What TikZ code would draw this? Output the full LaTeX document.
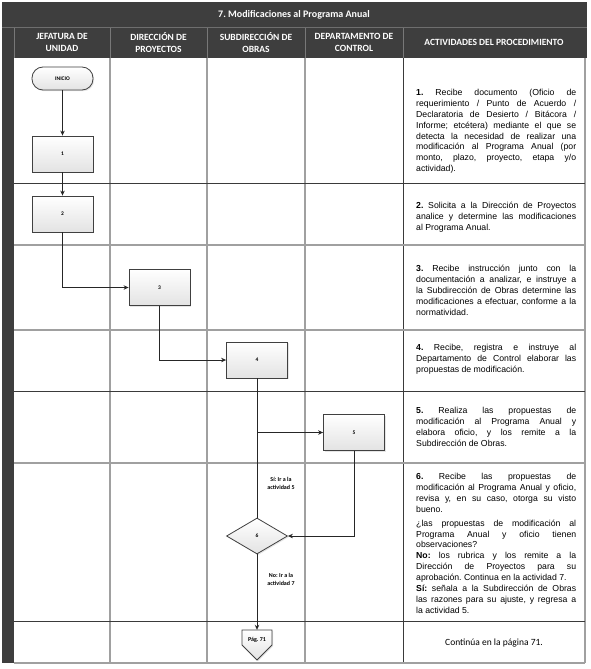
\documentclass[tikz,border=0pt]{standalone}
\usepackage{fontspec}
\setmainfont{Liberation Sans}
\newfontfamily\hdrf{Carlito}
\usetikzlibrary{arrows.meta,shapes.geometric,shadows,calc}
\definecolor{hdr}{HTML}{3E3E3E}
\definecolor{gridg}{HTML}{A0A0A0}
\definecolor{gridd}{HTML}{3A3A3A}
\definecolor{boxb}{HTML}{404040}
\frenchspacing
\begin{document}
\begin{tikzpicture}[x=1pt,y=-1pt,
  hdrtxt/.style={text=white,font=\hdrf\bfseries\fontsize{9.5}{12.5}\selectfont,align=center,inner sep=0},
  shadowed/.style={drop shadow={shadow xshift=1.2pt,shadow yshift=-1.2pt,opacity=.2,fill=gray}},
  procbox/.style={rectangle,draw=boxb,line width=0.8pt,minimum width=61pt,minimum height=36pt,inner sep=0,
     top color=white,bottom color=gray!22,shadowed,font=\hdrf\bfseries\fontsize{5.5}{6}\selectfont},
  termbox/.style={procbox,rounded corners=11pt,minimum height=23pt},
  decbox/.style={procbox,diamond,aspect=1.7,minimum width=61pt,minimum height=36pt},
  conn/.style={draw=black!85,line width=0.9pt},
  arr/.style={conn,-{Stealth[length=5pt,width=4.5pt]}},
  lbl/.style={font=\hdrf\bfseries\fontsize{6}{8}\selectfont,align=center,inner sep=0},
  acttxt/.style={anchor=base west,text width=160pt,align=justify,inner sep=0,
     font=\frenchspacing\fontsize{8.7}{10.9}\selectfont},
  vline/.style={draw=gridg,line width=1.1pt},
  hdark/.style={draw=gridd,line width=0.9pt},
  hlight/.style={draw=gridg,line width=1.1pt}
]
\useasboundingbox (0,0) rectangle (590,669);
\fill[white] (0,0) rectangle (590,669);
% dark header and left strip
\fill[hdr] (2,2) rectangle (587,58);
\fill[hdr] (2,58) rectangle (14,663);
\draw[hdr!75!white,line width=0.6pt] (2,27.5) -- (587,27.5);
\foreach \xx in {14,110,207,305,403}{\draw[hdr!70!white,line width=0.5pt] (\xx,28) -- (\xx,58);}
% grid
\foreach \xx in {110,207,305}{\draw[vline] (\xx,58) -- (\xx,663);}
\draw[hdark] (403,58) -- (403,663);
\draw[vline] (585,58) -- (585,663);
\draw[hdark] (14,183) -- (585,183);
\draw[hlight] (14,245) -- (585,245);
\draw[hlight] (14,330) -- (585,330);
\draw[hdark] (14,391) -- (585,391);
\draw[hlight] (14,463) -- (585,463);
\draw[hdark] (14,621) -- (585,621);
\draw[hlight] (14,663) -- (585,663);
% headers
\node[hdrtxt,font=\hdrf\bfseries\fontsize{10}{12}\selectfont] (title) at (294,15) {7. Modificaciones al Programa Anual};
\node[hdrtxt] (h1) at (62,42.5) {JEFATURA DE\\UNIDAD};
\node[hdrtxt] (h2) at (158.5,42.5) {DIRECCIÓN DE\\PROYECTOS};
\node[hdrtxt] (h3) at (256,42.5) {SUBDIRECCIÓN DE\\OBRAS};
\node[hdrtxt] (h4) at (354,42.5) {DEPARTAMENTO DE\\CONTROL};
\node[hdrtxt] (h5) at (494,42.5) {ACTIVIDADES DEL PROCEDIMIENTO};
% flow shapes
\node[termbox] (ini) at (62.5,78.5) {INICIO};
\node[procbox] (p1) at (62.5,154) {1};
\node[procbox] (p2) at (62.5,214) {2};
\node[procbox] (p3) at (159.5,287.5) {3};
\node[procbox] (p4) at (257,360) {4};
\node[procbox] (p5) at (354,432.5) {5};
\node[decbox] (d6) at (257,536) {6};
\shade[top color=white,bottom color=gray!22,draw=boxb,line width=0.8pt,shadowed]
  (242,630) -- (272,630) -- (272,645) -- (257,660) -- (242,645) -- cycle;
\node[font=\hdrf\bfseries\fontsize{6}{7}\selectfont,minimum width=30pt,minimum height=20pt,inner sep=0] (pg) at (257,640) {Pág. 71};
\coordinate (j) at (257,432.5);
% connectors
\draw[arr] (ini) -- (p1);
\draw[arr] (p1) -- (p2);
\draw[arr] (p2.south) |- (p3.west);
\draw[arr] (p3.south) |- (p4.west);
\draw[conn] (p4.south) -- (j);
\draw[arr] (j) -- (p5.west);
\draw[conn] (d6.north) -- (j);
\draw[arr] (p5.south) |- (d6.east);
\draw[arr] (d6.south) -- (pg.north);
\node[lbl] (ls) at (281,483) {Sí: Ir a la\\actividad 5};
\node[lbl] (ln) at (281,579) {No: Ir a la\\actividad 7};
% activity texts
\node[acttxt] (a1) at (416,95.5) {\textbf{1.} Recibe documento (Oficio de\linebreak requerimiento / Punto de Acuerdo /\linebreak Declaratoria de Desierto / Bitácora /\linebreak Informe; etcétera) mediante el que se\linebreak detecta la necesidad de realizar una\linebreak modificación al Programa Anual (por\linebreak monto, plazo, proyecto, etapa y/o\linebreak actividad).};
\node[acttxt] (a2) at (416,208.5) {\textbf{2.} Solicita a la Dirección de Proyectos\linebreak analice y determine las modificaciones\linebreak al Programa Anual.};
\node[acttxt] (a3) at (416,271.5) {\textbf{3.} Recibe instrucción junto con la\linebreak documentación a analizar, e instruye a\linebreak la Subdirección de Obras determine las\linebreak modificaciones a efectuar, conforme a la\linebreak normatividad.};
\node[acttxt] (a4) at (416,350.5) {\textbf{4.} Recibe, registra e instruye al\linebreak Departamento de Control elaborar las\linebreak propuestas de modificación.};
\node[acttxt] (a5) at (416,413.5) {\textbf{5.} Realiza las propuestas de\linebreak modificación al Programa Anual y\linebreak elabora oficio, y los remite a la\linebreak Subdirección de Obras.};
\node[acttxt] (a6) at (416,479.5) {\textbf{6.} Recibe las propuestas de\linebreak modificación al Programa Anual y oficio,\linebreak revisa y, en su caso, otorga su visto\linebreak bueno.\par\vspace{3pt}
¿las propuestas de modificación al\linebreak Programa Anual y oficio tienen\linebreak observaciones?\par
\textbf{No:} los rubrica y los remite a la\linebreak Dirección de Proyectos para su\linebreak aprobación.~Continua~en~la~actividad~7.\par
\textbf{Sí:} señala a la Subdirección de Obras\linebreak las razones para su ajuste, y regresa a\linebreak la actividad 5.};
\node[font=\hdrf\fontsize{9.5}{11}\selectfont,inner sep=0] (cont) at (494,643) {Continúa en la página 71.};
\end{tikzpicture}
\end{document}
